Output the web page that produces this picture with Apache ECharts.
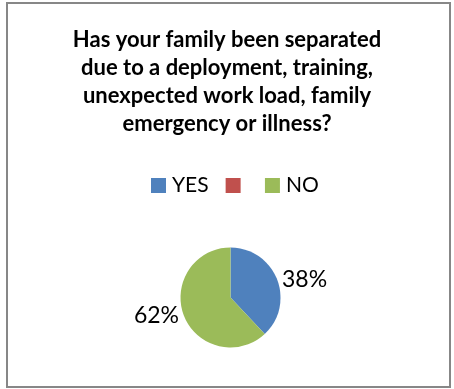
<!DOCTYPE html>
<html>
<head>
<meta charset="utf-8">
<script src="https://cdn.jsdelivr.net/npm/echarts@6/dist/echarts.min.js"></script>
<style>
html,body{margin:0;padding:0;background:#fff;}
#c{width:454px;height:389px;}
</style>
</head>
<body>
<div id="c"></div>
<script>
const titleText = "Has your family been separated\ndue to a deployment, training,\nunexpected work load, family\nemergency or illness?";
const categories = ["YES", "\u200a", "NO"];
const values = [38, 0, 62];
const colors = ["#4F81BD", "#C0504D", "#9BBB59"];

const chart = echarts.init(document.getElementById('c'), null, {renderer: 'canvas'});
const data = categories.map((name, i) => ({
  name: name,
  value: values[i],
  itemStyle: {color: colors[i]},
  label: {show: values[i] > 0}
}));
chart.setOption({
  animation: false,
  backgroundColor: '#fff',
  graphic: [{
    type: 'rect',
    shape: {x: 7, y: 3, width: 443, height: 384},
    style: {fill: 'none', stroke: '#878787', lineWidth: 2}
  }],
  title: {
    text: titleText,
    left: 'center',
    top: 21,
    textStyle: {fontFamily: 'Lato', fontWeight: 'bold', fontSize: 22, lineHeight: 28, color: '#000'}
  },
  legend: {
    top: 170,
    left: 146,
    icon: 'rect',
    itemWidth: 15,
    itemHeight: 15,
    itemGap: 17,
    data: categories,
    textStyle: {fontFamily: 'Lato', fontSize: 21, color: '#000', padding: [0, 0, 0, 1]}
  },
  series: [{
    type: 'pie',
    center: [230.5, 297.5],
    radius: 50,
    startAngle: 90,
    clockwise: true,
    data: data,
    label: {
      position: 'outside',
      formatter: p => Math.round(p.percent) + '%',
      fontFamily: 'Lato',
      fontSize: 23,
      color: '#000'
    },
    labelLine: {show: false, length: 0, length2: 0},
    emphasis: {disabled: true}
  }]
});
</script>
</body>
</html>
